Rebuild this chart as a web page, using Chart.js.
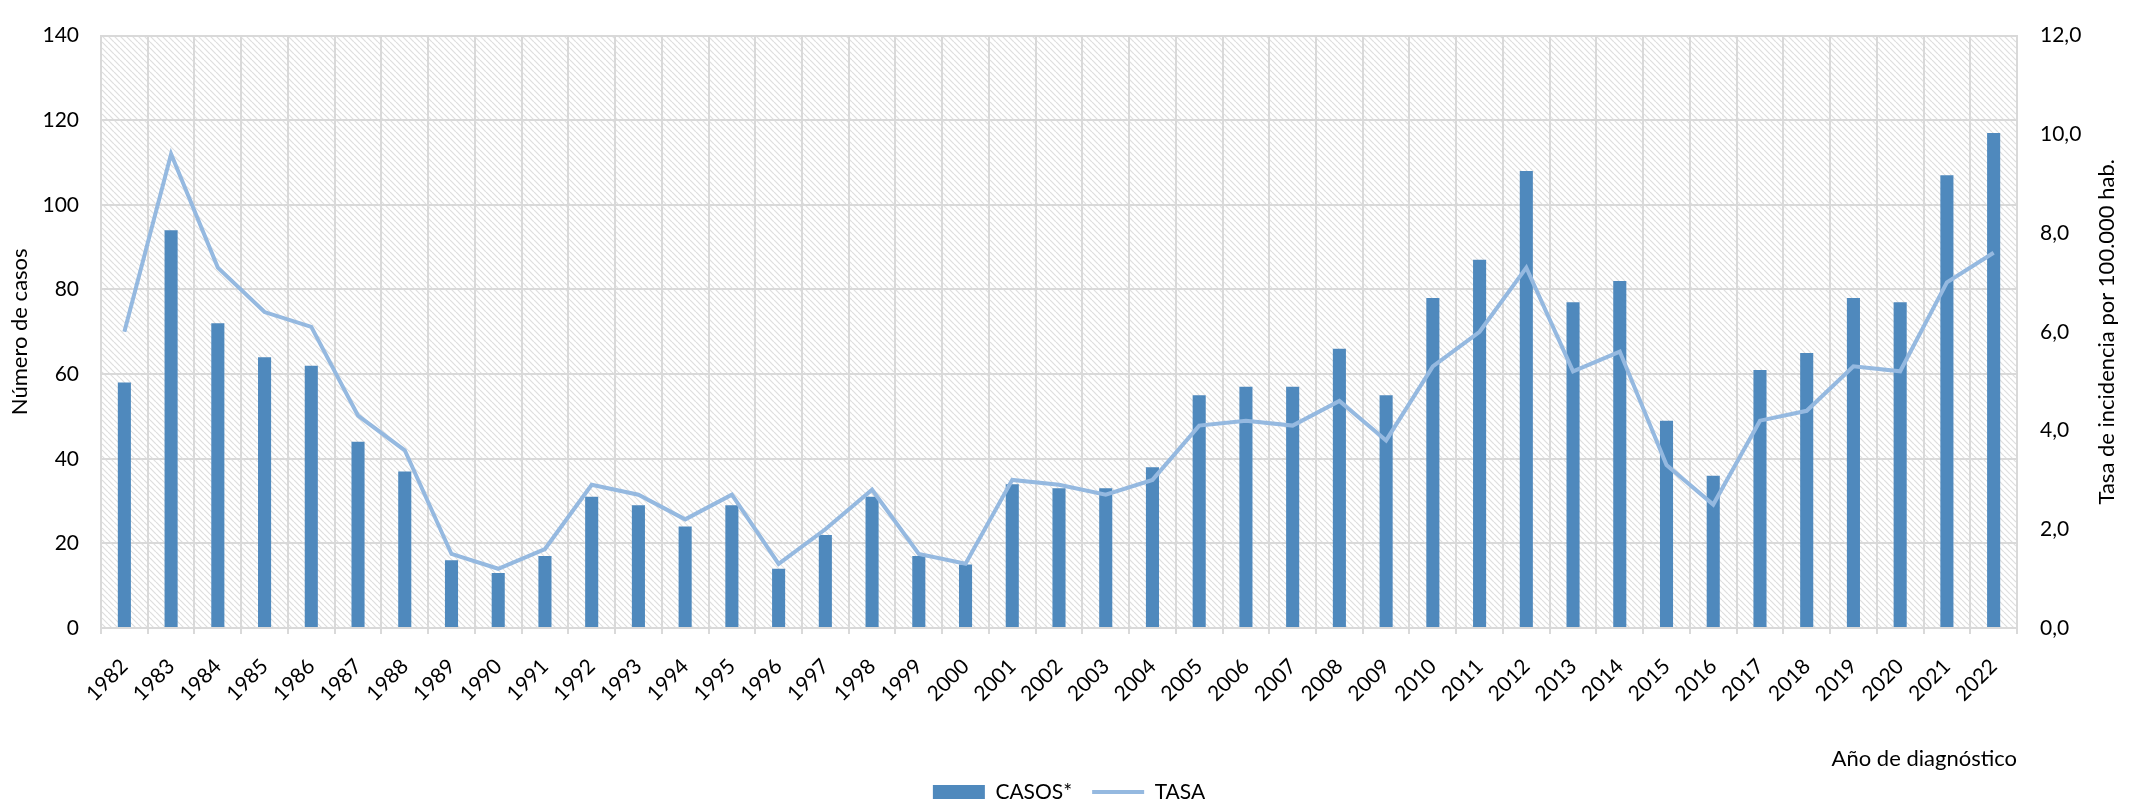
<!DOCTYPE html>
<html>
<head>
<meta charset="utf-8">
<script src="https://cdn.jsdelivr.net/npm/chart.js@4.4.0/dist/chart.umd.min.js"></script>
<style>
  html, body { margin: 0; padding: 0; background: #fff; }
  #wrap { width: 2138px; height: 804px; position: relative; }
</style>
</head>
<body>
<div id="wrap"><canvas id="myChart"></canvas></div>
<script>
// Data
const years = ['1982','1983','1984','1985','1986','1987','1988','1989','1990','1991',
  '1992','1993','1994','1995','1996','1997','1998','1999','2000','2001','2002','2003',
  '2004','2005','2006','2007','2008','2009','2010','2011','2012','2013','2014','2015',
  '2016','2017','2018','2019','2020','2021','2022'];

const casos = [58, 94, 72, 64, 62, 44, 37, 16, 13, 17,
  31, 29, 24, 29, 14, 22, 31, 17, 15, 34, 33, 33,
  38, 55, 57, 57, 66, 55, 78, 87, 108, 77, 82, 49,
  36, 61, 65, 78, 77, 107, 117];

const tasa = [6.0, 9.6, 7.3, 6.4, 6.1, 4.3, 3.6, 1.5, 1.2, 1.6,
  2.9, 2.7, 2.2, 2.7, 1.3, 2.0, 2.8, 1.5, 1.3, 3.0, 2.9, 2.7,
  3.0, 4.1, 4.2, 4.1, 4.6, 3.8, 5.3, 6.0, 7.3, 5.2, 5.6, 3.3,
  2.5, 4.2, 4.4, 5.3, 5.2, 7.0, 7.6];

const leftTitle = 'Número de casos';
const rightTitle = 'Tasa de incidencia por 100.000 hab.';
const xTitle = 'Año de diagnóstico';

const gridColor = '#d9d9d9';
const fontFamily = 'Lato, "Open Sans", sans-serif';

// Hatched plot background
function makeHatch() {
  const c = document.createElement('canvas');
  c.width = 6; c.height = 6;
  const g = c.getContext('2d');
  g.fillStyle = '#ffffff';
  g.fillRect(0, 0, 6, 6);
  g.strokeStyle = '#dedede';
  g.lineWidth = 1.2;
  for (let k = -6; k <= 6; k += 6) {
    g.beginPath();
    g.moveTo(k, 0);
    g.lineTo(k + 6, 6);
    g.stroke();
  }
  return c;
}

const hatchPlugin = {
  id: 'hatch',
  beforeDraw(chart) {
    const a = chart.chartArea;
    const ctx = chart.ctx;
    ctx.save();
    ctx.fillStyle = ctx.createPattern(makeHatch(), 'repeat');
    ctx.fillRect(a.left, a.top, a.right - a.left, a.bottom - a.top);
    ctx.restore();
  }
};

// Right axis title reads bottom-to-top like the left one
const rightTitlePlugin = {
  id: 'rightTitle',
  afterDraw(chart) {
    const s = chart.scales.y1;
    const ctx = chart.ctx;
    ctx.save();
    ctx.translate(2107, (s.top + s.bottom) / 2);
    ctx.rotate(-Math.PI / 2);
    ctx.font = '22px ' + fontFamily;
    ctx.fillStyle = '#000';
    ctx.textAlign = 'center';
    ctx.textBaseline = 'middle';
    ctx.fillText(rightTitle, 0, 0);
    ctx.restore();
  }
};

Chart.defaults.font.family = fontFamily;
Chart.defaults.font.size = 21;
Chart.defaults.color = '#000';

const chartConfig = {
  type: 'bar',
  data: {
    labels: years,
    datasets: [
      {
        type: 'bar',
        label: 'CASOS*',
        data: casos,
        yAxisID: 'y',
        backgroundColor: '#4f89bd',
        borderWidth: 0,
        barPercentage: 0.28,
        categoryPercentage: 1,
        pointStyle: 'rect',
        order: 1
      },
      {
        type: 'line',
        label: 'TASA',
        data: tasa,
        yAxisID: 'y1',
        borderColor: '#95b9e0',
        backgroundColor: '#95b9e0',
        borderWidth: 4,
        pointRadius: 0,
        tension: 0,
        pointStyle: 'line',
        order: 0
      }
    ]
  },
  options: {
    responsive: true,
    maintainAspectRatio: false,
    animation: false,
    layout: { padding: { top: 17, left: 0, right: 0, bottom: -8.5 } },
    plugins: {
      legend: {
        position: 'bottom',
        labels: {
          usePointStyle: true,
          pointStyleWidth: 52,
          boxHeight: 14,
          padding: 20,
          font: { size: 21 },
          sort: (a, b) => a.datasetIndex - b.datasetIndex
        }
      },
      tooltip: { enabled: false }
    },
    scales: {
      x: {
        offset: true,
        grid: { color: gridColor, lineWidth: 2, offset: true, tickLength: 6 },
        border: { color: gridColor, width: 2 },
        ticks: { autoSkip: false, minRotation: 45, maxRotation: 45, padding: 20 },
        title: { display: true, text: xTitle, align: 'end', font: { size: 22 }, padding: { top: 0, bottom: -10.7 } },
        afterFit: (scale) => { scale.height = 133.5; }
      },
      y: {
        position: 'left',
        min: 0,
        max: 140,
        ticks: { stepSize: 20, padding: 22 },
        grid: { color: gridColor, lineWidth: 2, drawTicks: false },
        border: { color: gridColor, width: 2 },
        title: { display: true, text: leftTitle, font: { size: 22 }, padding: { top: 7, bottom: 0 } },
        afterFit: (scale) => { scale.width = 101; }
      },
      y1: {
        position: 'right',
        min: 0,
        max: 12,
        ticks: {
          stepSize: 2,
          padding: 23,
          callback: (v) => v.toFixed(1).replace('.', ',')
        },
        grid: { drawOnChartArea: false, drawTicks: false },
        border: { color: gridColor, width: 2 },
        afterFit: (scale) => { scale.width = 121; }
      }
    }
  },
  plugins: [hatchPlugin, rightTitlePlugin]
};

const myChart = new Chart(document.getElementById('myChart'), chartConfig);
</script>
</body>
</html>
